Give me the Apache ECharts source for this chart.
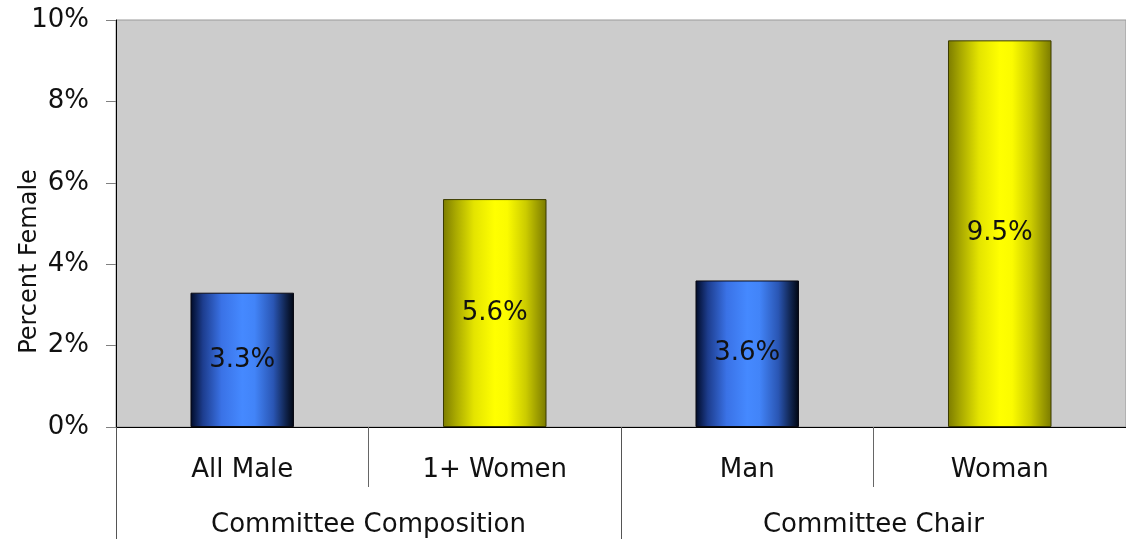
<!DOCTYPE html>
<html>
<head>
<meta charset="utf-8">
<script src="https://cdn.jsdelivr.net/npm/echarts@6/dist/echarts.min.js"></script>
<style>
  html, body { margin: 0; padding: 0; background: #ffffff; }
  #chart { width: 1126px; height: 539px; }
</style>
</head>
<body>
<div id="chart"></div>
<script>
// Share of female members, by committee composition and by chair
const categories = ['All Male', '1+ Women', 'Man', 'Woman'];
const groups = ['Committee Composition', 'Committee Chair'];
const percentFemale = [3.3, 5.6, 3.6, 9.5];
const yTicks = [0, 2, 4, 6, 8, 10];

const FONT = 'DejaVu Sans';

// Cylinder-like horizontal shading for the two bar kinds
const blueFill = new echarts.graphic.LinearGradient(0, 0, 1, 0, [
  { offset: 0.00, color: '#000a26' },
  { offset: 0.12, color: '#1d3d8e' },
  { offset: 0.30, color: '#3a72e6' },
  { offset: 0.50, color: '#4589ff' },
  { offset: 0.62, color: '#4284f8' },
  { offset: 0.80, color: '#2a56b4' },
  { offset: 0.92, color: '#10244e' },
  { offset: 1.00, color: '#000510' }
]);
const yellowFill = new echarts.graphic.LinearGradient(0, 0, 1, 0, [
  { offset: 0.00, color: '#7c7c00' },
  { offset: 0.12, color: '#a8a800' },
  { offset: 0.30, color: '#e4e400' },
  { offset: 0.50, color: '#ffff00' },
  { offset: 0.62, color: '#fbfb00' },
  { offset: 0.80, color: '#cccc00' },
  { offset: 0.92, color: '#9a9a00' },
  { offset: 1.00, color: '#7a7a00' }
]);
const fills = [blueFill, yellowFill];
const borders = ['#0a0a14', '#3a3a00'];

const chart = echarts.init(document.getElementById('chart'), null, { renderer: 'canvas' });

chart.setOption({
  animation: false,
  backgroundColor: '#ffffff',
  textStyle: { fontFamily: FONT },
  grid: {
    left: 116, right: 0, top: 20, bottom: 112,
    containLabel: false,
    outerBoundsMode: 'none',
    show: true, backgroundColor: '#cccccc',
    borderColor: '#999999', borderWidth: 1
  },
  xAxis: [
    {
      type: 'category',
      data: categories,
      position: 'bottom',
      axisLine: { show: true, lineStyle: { color: '#000000', width: 1 } },
      axisTick: { show: true, interval: 0, length: 60, lineStyle: { color: '#666666' } },
      axisLabel: { interval: 0, margin: 30, color: '#111111', fontSize: 26, fontFamily: FONT },
      splitLine: { show: false }
    },
    {
      type: 'category',
      data: groups,
      position: 'bottom',
      axisLine: { show: false },
      axisTick: { show: true, interval: 0, length: 115, lineStyle: { color: '#555555' } },
      axisLabel: { interval: 0, margin: 85, color: '#111111', fontSize: 26, fontFamily: FONT },
      splitLine: { show: false }
    }
  ],
  yAxis: {
    type: 'value',
    min: yTicks[0],
    max: yTicks[yTicks.length - 1],
    interval: yTicks[1] - yTicks[0],
    name: 'Percent Female',
    nameLocation: 'middle',
    nameGap: 74,
    nameRotate: 90,
    nameMoveOverlap: false,
    nameTextStyle: { color: '#111111', fontSize: 24, fontFamily: FONT, padding: [0, 76, 0, 0] },
    axisLine: { show: true, lineStyle: { color: '#000000', width: 1 } },
    axisTick: { show: true, length: 10, lineStyle: { color: '#808080' } },
    axisLabel: { margin: 27, color: '#111111', fontSize: 26, fontFamily: FONT, formatter: '{value}%' },
    splitLine: { show: false }
  },
  series: [{
    type: 'bar',
    xAxisIndex: 0,
    barWidth: '41%',
    data: percentFemale.map((v, i) => ({
      value: v,
      itemStyle: { color: fills[i % 2], borderColor: borders[i % 2], borderWidth: 1 }
    })),
    label: {
      show: true,
      position: 'inside',
      color: '#111111',
      fontSize: 26,
      fontFamily: FONT,
      formatter: p => p.value.toFixed(1) + '%'
    }
  }]
});
</script>
</body>
</html>
